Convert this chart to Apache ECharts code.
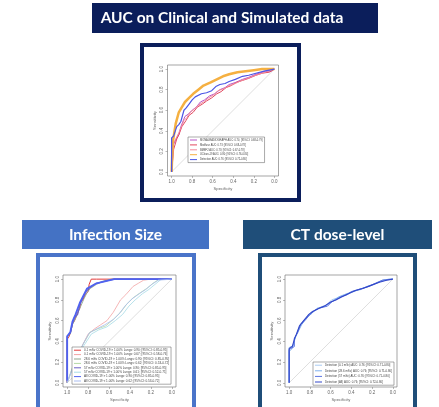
<!DOCTYPE html>
<html>
<head>
<meta charset="utf-8">
<script src="https://cdn.jsdelivr.net/npm/echarts@6/dist/echarts.min.js"></script>
<style>
  html, body { margin: 0; padding: 0; background: #ffffff; }
  #chart { width: 439px; height: 407px; }
</style>
</head>
<body>
<div id="chart"></div>
<script>
// Panel headings
const headingTexts = ['AUC on Clinical and Simulated data', 'Infection Size', 'CT dose-level'];
// Axis tick values shared by every ROC panel
const tickValues = [0, 0.2, 0.4, 0.6, 0.8, 1.0];

// ---- Panel 1: clinical and simulated data ----
const clinNames = [
  'MONAI-RADIOGRAPH AUC: 0.74; [95%CI: 0.68-0.79]',
  'Medfuse AUC: 0.73; [95%CI: 0.68-0.78]',
  'BMEF2 AUC: 0.73; [95%CI: 0.67-0.78]',
  'UClean-19 AUC: 0.80; [95%CI: 0.76-0.84]',
  'Detection AUC: 0.76; [95%CI: 0.72-0.80]'
];
const clinMagentaSpec = [1, 1, 0.99, 0.95, 0.93, 0.91, 0.87, 0.84, 0.80, 0.76, 0.72, 0.68, 0.63, 0.58, 0.53, 0.48, 0.44, 0.38, 0.31, 0.25, 0.18, 0.09, 0.03, 0];
const clinMagentaSens = [0, 0.18, 0.25, 0.33, 0.36, 0.44, 0.54, 0.56, 0.60, 0.63, 0.68, 0.70, 0.74, 0.76, 0.80, 0.82, 0.85, 0.87, 0.90, 0.92, 0.95, 0.98, 0.98, 1];
const clinRedSpec = [1, 0.98, 0.95, 0.93, 0.90, 0.86, 0.83, 0.79, 0.75, 0.70, 0.66, 0.61, 0.56, 0.52, 0.47, 0.42, 0.37, 0.31, 0.25, 0.18, 0.12, 0.05, 0];
const clinRedSens = [0, 0.22, 0.32, 0.36, 0.44, 0.50, 0.55, 0.58, 0.63, 0.66, 0.69, 0.72, 0.76, 0.78, 0.82, 0.84, 0.87, 0.89, 0.91, 0.94, 0.96, 0.97, 1];
const clinPinkSpec = [1, 0.98, 0.96, 0.93, 0.88, 0.85, 0.82, 0.78, 0.74, 0.69, 0.64, 0.59, 0.55, 0.49, 0.44, 0.38, 0.32, 0.26, 0.21, 0.15, 0.09, 0.04, 0];
const clinPinkSens = [0, 0.28, 0.32, 0.38, 0.50, 0.53, 0.58, 0.61, 0.65, 0.68, 0.72, 0.75, 0.79, 0.81, 0.84, 0.86, 0.89, 0.91, 0.93, 0.95, 0.97, 0.99, 1];
const clinOrangeSpec = [1, 0.99, 0.96, 0.93, 0.90, 0.87, 0.83, 0.79, 0.74, 0.69, 0.62, 0.56, 0.50, 0.44, 0.36, 0.28, 0.20, 0.12, 0.05, 0];
const clinOrangeSens = [0, 0.28, 0.47, 0.58, 0.63, 0.68, 0.72, 0.76, 0.80, 0.84, 0.87, 0.90, 0.93, 0.95, 0.97, 0.98, 0.99, 1.0, 1.0, 1];
const clinBlueSpec = [1, 1, 0.98, 0.95, 0.93, 0.91, 0.88, 0.86, 0.83, 0.80, 0.77, 0.71, 0.66, 0.61, 0.57, 0.53, 0.48, 0.44, 0.38, 0.31, 0.25, 0.18, 0.10, 0.05, 0];
const clinBlueSens = [0, 0.33, 0.35, 0.44, 0.46, 0.49, 0.60, 0.62, 0.66, 0.70, 0.73, 0.76, 0.77, 0.79, 0.83, 0.85, 0.86, 0.88, 0.90, 0.93, 0.94, 0.96, 0.98, 0.99, 1];

// ---- Panel 2: infection size ----
const infNames = [
  '0.1 mSv COVID-19 > 1.00% Lungs: 0.90; [95%CI: 0.85-0.95]',
  '0.1 mSv COVID-19 < 1.00% Lungs: 0.67; [95%CI: 0.58-0.76]',
  '28.6 mSv COVID-19 > 1.00% Lungs: 0.90; [95%CI: 0.85-0.95]',
  '28.6 mSv COVID-19 < 1.00% Lungs: 0.62; [95%CI: 0.53-0.72]',
  '57 mSv COVID-19 > 1.00% Lungs: 0.90; [95%CI: 0.85-0.95]',
  '57 mSv COVID-19 < 1.00% Lungs: 0.61; [95%CI: 0.52-0.71]',
  'All COVID-19 > 1.00% Lungs: 0.90; [95%CI: 0.85-0.95]',
  'All COVID-19 < 1.00% Lungs: 0.62; [95%CI: 0.53-0.72]'
];
const infHighRedSpec = [1, 1, 0.98, 0.96, 0.95, 0.93, 0.90, 0.88, 0.87, 0.85, 0.83, 0.80, 0.79, 0.77, 0.72, 0.5, 0];
const infHighRedSens = [0, 0.42, 0.45, 0.52, 0.57, 0.60, 0.68, 0.72, 0.78, 0.80, 0.85, 0.88, 0.95, 1, 1, 1, 1];
const infLowPinkSpec = [1, 0.95, 0.90, 0.85, 0.80, 0.74, 0.68, 0.62, 0.56, 0.49, 0.44, 0.37, 0.32, 0.27, 0.2, 0];
const infLowPinkSens = [0, 0.14, 0.26, 0.37, 0.47, 0.52, 0.56, 0.60, 0.68, 0.80, 0.85, 0.93, 0.96, 0.99, 1, 1];
const infHighGreenSpec = [1, 1, 0.97, 0.95, 0.92, 0.90, 0.87, 0.84, 0.81, 0.78, 0.72, 0.66, 0.58, 0.3, 0];
const infHighGreenSens = [0, 0.44, 0.47, 0.56, 0.62, 0.67, 0.74, 0.81, 0.87, 0.91, 0.95, 0.98, 1, 1, 1];
const infLowGreenSpec = [1, 0.95, 0.90, 0.85, 0.78, 0.71, 0.63, 0.55, 0.49, 0.43, 0.37, 0.30, 0.24, 0.18, 0.12, 0];
const infLowGreenSens = [0, 0.15, 0.25, 0.37, 0.49, 0.52, 0.55, 0.62, 0.68, 0.76, 0.82, 0.87, 0.91, 0.96, 1, 1];
const infHighPurpleSpec = [1, 1, 0.97, 0.95, 0.93, 0.90, 0.88, 0.85, 0.82, 0.78, 0.72, 0.64, 0.55, 0];
const infHighPurpleSens = [0, 0.45, 0.48, 0.57, 0.63, 0.66, 0.75, 0.82, 0.88, 0.92, 0.96, 0.98, 1, 1];
const infLowCyanSpec = [1, 0.95, 0.90, 0.84, 0.77, 0.70, 0.62, 0.54, 0.47, 0.41, 0.35, 0.28, 0.22, 0.16, 0.10, 0];
const infLowCyanSens = [0, 0.13, 0.24, 0.36, 0.47, 0.51, 0.54, 0.60, 0.66, 0.74, 0.80, 0.86, 0.90, 0.95, 1, 1];
const infHighBlueSpec = [1, 1, 0.97, 0.95, 0.92, 0.88, 0.85, 0.81, 0.72, 0.55, 0];
const infHighBlueSens = [0.02, 0.45, 0.49, 0.59, 0.66, 0.77, 0.83, 0.91, 0.96, 1, 1];
const infLowBlueSpec = [1, 0.95, 0.90, 0.85, 0.79, 0.72, 0.64, 0.56, 0.50, 0.44, 0.38, 0.31, 0.25, 0.19, 0.13, 0];
const infLowBlueSens = [0, 0.14, 0.25, 0.37, 0.48, 0.52, 0.56, 0.61, 0.67, 0.75, 0.81, 0.86, 0.90, 0.95, 0.99, 1];

// ---- Panel 3: CT dose level ----
const ctNames = [
  'Detection (0.1 mSv) AUC: 0.76; [95%CI: 0.71-0.80]',
  'Detection (28.6 mSv) AUC: 0.76; [95%CI: 0.71-0.80]',
  'Detection (57 mSv) AUC: 0.76; [95%CI: 0.71-0.80]',
  'Detection (All) AUC: 0.76; [95%CI: 0.72-0.80]'
];
const ctLow1Spec = [1, 1, 0.97, 0.95, 0.92, 0.89, 0.84, 0.79, 0.74, 0.70, 0.64, 0.59, 0.53, 0.48, 0.40, 0.33, 0.27, 0.18, 0.10, 0.04, 0];
const ctLow1Sens = [0, 0.30, 0.33, 0.41, 0.49, 0.57, 0.62, 0.68, 0.70, 0.73, 0.75, 0.80, 0.82, 0.84, 0.87, 0.90, 0.92, 0.95, 0.99, 1, 1];
const ctMid2Spec = [1, 1, 0.96, 0.94, 0.91, 0.88, 0.83, 0.78, 0.73, 0.68, 0.62, 0.58, 0.52, 0.47, 0.39, 0.31, 0.25, 0.16, 0.09, 0.03, 0];
const ctMid2Sens = [0, 0.34, 0.36, 0.44, 0.50, 0.56, 0.63, 0.67, 0.72, 0.73, 0.76, 0.79, 0.83, 0.85, 0.88, 0.90, 0.93, 0.96, 0.99, 1, 1];
const ctHigh3Spec = [1, 1, 0.95, 0.95, 0.92, 0.89, 0.84, 0.80, 0.75, 0.71, 0.63, 0.59, 0.50, 0.44, 0.40, 0.30, 0.23, 0.17, 0.10, 0];
const ctHigh3Sens = [0, 0.32, 0.35, 0.43, 0.48, 0.56, 0.61, 0.66, 0.70, 0.72, 0.74, 0.78, 0.83, 0.85, 0.88, 0.91, 0.93, 0.96, 0.99, 1];
const ctAll4Spec = [1, 1, 0.97, 0.95, 0.93, 0.90, 0.86, 0.81, 0.77, 0.71, 0.66, 0.60, 0.55, 0.49, 0.43, 0.36, 0.29, 0.21, 0.13, 0.06, 0];
const ctAll4Sens = [0, 0.33, 0.35, 0.42, 0.47, 0.55, 0.60, 0.66, 0.69, 0.72, 0.74, 0.78, 0.80, 0.83, 0.86, 0.89, 0.91, 0.94, 0.97, 0.99, 1];

// Chance diagonal
const chanceSpec = [1, 0];
const chanceSens = [0, 1];

const zip = (xs, ys) => xs.map((x, i) => [x, ys[i]]);

const chart = echarts.init(document.getElementById('chart'), null, { renderer: 'canvas' });

const panels = [
  { left: 167.5, top: 65, width: 111, height: 111 },
  { left: 63, top: 275, width: 113, height: 112 },
  { left: 285, top: 275, width: 112, height: 112 }
];

const labelFont = 'Liberation Sans';
const grids = panels.map(p => ({
  left: p.left, top: p.top, width: p.width, height: p.height,
  show: true, borderColor: '#6a6a6a', borderWidth: 0.6, backgroundColor: '#ffffff'
}));

const xAxes = panels.map((p, i) => ({
  gridIndex: i, type: 'value', inverse: true, min: -0.04, max: 1.04, position: 'bottom',
  axisLine: { show: false, onZero: false }, splitLine: { show: false },
  axisTick: { show: true, length: 2, customValues: tickValues, lineStyle: { color: '#777', width: 0.5 } },
  axisLabel: { customValues: tickValues, fontSize: 4.5, color: '#666', margin: 3, fontFamily: labelFont,
    formatter: v => v.toFixed(1) },
  name: 'Specificity', nameLocation: 'middle', nameGap: 11,
  nameTextStyle: { fontSize: 4.2, color: '#666', fontFamily: labelFont }
}));
const yAxes = panels.map((p, i) => ({
  gridIndex: i, type: 'value', min: -0.04, max: 1.04, position: 'left',
  axisLine: { show: false, onZero: false }, splitLine: { show: false },
  axisTick: { show: true, length: 2, customValues: tickValues, lineStyle: { color: '#777', width: 0.5 } },
  axisLabel: { customValues: tickValues, fontSize: 4.5, color: '#666', margin: 3, rotate: 90, fontFamily: labelFont,
    formatter: v => v.toFixed(1) },
  name: 'Sensitivity', nameLocation: 'middle', nameGap: 11,
  nameTextStyle: { fontSize: 4.2, color: '#666', fontFamily: labelFont }
}));

function curve(name, gi, spec, sens, color, width) {
  return {
    name, type: 'line', xAxisIndex: gi, yAxisIndex: gi,
    data: zip(spec, sens), symbol: 'none', color,
    lineStyle: { color, width }, animation: false, z: 3
  };
}
function chance(gi) {
  return {
    type: 'line', xAxisIndex: gi, yAxisIndex: gi, data: zip(chanceSpec, chanceSens),
    symbol: 'none', silent: true, lineStyle: { color: '#c8c8c8', width: 0.6 }, animation: false, z: 2
  };
}

const clinColors = ['#b855c8', '#e2485f', '#f28a9c', '#f5b041', '#4b55e6'];
const infColors = ['#e23a3a', '#f2a3a3', '#8fa58c', '#b4d9a6', '#6a5fc4', '#a6dbe6', '#4f62f0', '#a9bcf0'];
const ctColors = ['#a9cbf2', '#7fb0ee', '#5a74e2', '#3346c8'];

const series = [
  chance(0), chance(1), chance(2),
  curve(clinNames[0], 0, clinMagentaSpec, clinMagentaSens, clinColors[0], 1),
  curve(clinNames[1], 0, clinRedSpec, clinRedSens, clinColors[1], 1),
  curve(clinNames[2], 0, clinPinkSpec, clinPinkSens, clinColors[2], 1),
  curve(clinNames[3], 0, clinOrangeSpec, clinOrangeSens, clinColors[3], 2.5),
  curve(clinNames[4], 0, clinBlueSpec, clinBlueSens, clinColors[4], 1.2),

  curve(infNames[0], 1, infHighRedSpec, infHighRedSens, infColors[0], 1),
  curve(infNames[1], 1, infLowPinkSpec, infLowPinkSens, infColors[1], 0.8),
  curve(infNames[2], 1, infHighGreenSpec, infHighGreenSens, infColors[2], 0.9),
  curve(infNames[3], 1, infLowGreenSpec, infLowGreenSens, infColors[3], 0.8),
  curve(infNames[4], 1, infHighPurpleSpec, infHighPurpleSens, infColors[4], 1.2),
  curve(infNames[5], 1, infLowCyanSpec, infLowCyanSens, infColors[5], 0.8),
  curve(infNames[6], 1, infHighBlueSpec, infHighBlueSens, infColors[6], 1.8),
  curve(infNames[7], 1, infLowBlueSpec, infLowBlueSens, infColors[7], 0.8),

  curve(ctNames[0], 2, ctLow1Spec, ctLow1Sens, ctColors[0], 1),
  curve(ctNames[1], 2, ctMid2Spec, ctMid2Sens, ctColors[1], 1),
  curve(ctNames[2], 2, ctHigh3Spec, ctHigh3Sens, ctColors[2], 1),
  curve(ctNames[3], 2, ctAll4Spec, ctAll4Sens, ctColors[3], 1.1)
];

function legendBox(names, left, top, fontSize, lineH, gap) {
  return {
    data: names, left, top, orient: 'vertical',
    backgroundColor: '#ffffff', borderColor: '#555', borderWidth: 0.5,
    padding: [1.5, 2, 1.5, 2], itemGap: gap, itemWidth: 7, itemHeight: 1, icon: 'rect',
    selectedMode: false, z: 10,
    textStyle: { fontSize, color: '#444', fontFamily: labelFont, padding: [0, 0, 0, -2], lineHeight: lineH }
  };
}

const headingBoxes = [
  { x: 92, y: 3, w: 286, h: 30, fill: '#0b1e5b', cx: 222, cy: 18, text: headingTexts[0] },
  { x: 22, y: 220, w: 187, h: 29, fill: '#4472c4', cx: 115.5, cy: 235, text: headingTexts[1] },
  { x: 243, y: 220, w: 189, h: 29, fill: '#1f4e79', cx: 337.5, cy: 235, text: headingTexts[2] }
];
const frames = [
  { x: 142, y: 45, w: 157, h: 155, stroke: '#0b1e5b' },
  { x: 38, y: 255, w: 156, h: 160, stroke: '#4a74c9' },
  { x: 260, y: 255, w: 155, h: 160, stroke: '#1f4e79' }
];

const graphic = [];
frames.forEach(f => graphic.push({
  type: 'rect', shape: { x: f.x, y: f.y, width: f.w, height: f.h },
  style: { fill: '#ffffff', stroke: f.stroke, lineWidth: 4 }, z: -10, silent: true
}));
headingBoxes.forEach(b => {
  graphic.push({
    type: 'rect', shape: { x: b.x, y: b.y, width: b.w, height: b.h },
    style: { fill: b.fill }, z: -10, silent: true
  });
  graphic.push({
    type: 'text', x: b.cx, y: b.cy, z: -9, silent: true,
    style: { text: b.text, fill: '#ffffff', font: 'bold 15.5px Lato, "Open Sans", sans-serif',
      textAlign: 'center', textVerticalAlign: 'middle' }
  });
});

chart.setOption({
  animation: false,
  grid: grids,
  xAxis: xAxes,
  yAxis: yAxes,
  legend: [
    legendBox(clinNames, 188, 137, 2.6, 3, 1.9),
    legendBox(infNames, 72, 347, 3.1, 3.4, 1),
    legendBox(ctNames, 313, 362, 2.9, 3.4, 2.2)
  ],
  graphic,
  series
});
</script>
</body>
</html>
